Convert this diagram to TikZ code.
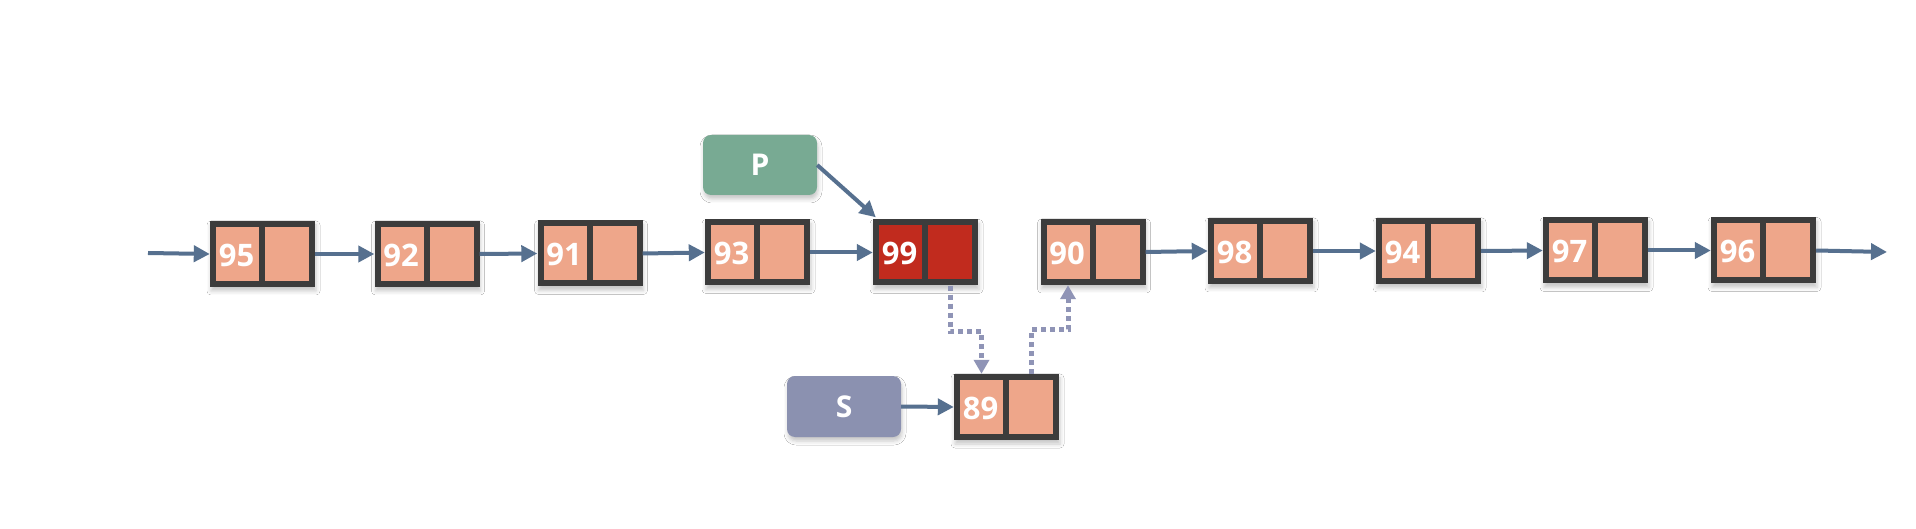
\documentclass[tikz,border=0pt]{standalone}
\usepackage{fontspec}
\setmainfont{Open Sans}
\usetikzlibrary{arrows.meta,shadows.blur,calc}
\definecolor{salmon}{HTML}{EEA68A}
\definecolor{boxborder}{HTML}{3C3C3C}
\definecolor{hotred}{HTML}{C12B1E}
\definecolor{pgreen}{HTML}{78AA93}
\definecolor{sgray}{HTML}{8B91B0}
\definecolor{arrowblue}{HTML}{56708F}
\definecolor{dotcol}{HTML}{8F94B6}
\tikzset{
  outerbox/.style={rectangle, fill=boxborder, minimum width=105pt, minimum height=66pt, inner sep=0pt,
    blur shadow={shadow xshift=1pt, shadow yshift=-4pt, shadow blur radius=4pt, shadow opacity=22}},
  cellbox/.style={rectangle, minimum height=54pt, inner sep=0pt},
  numtext/.style={text=white, font=\fontsize{31}{34}\selectfont\bfseries, inner sep=0pt},
  tagbox/.style={rectangle, rounded corners=8pt, minimum width=114pt, minimum height=60pt, inner sep=0pt,
    text=white, font=\fontsize{30}{33}\selectfont\bfseries,
    blur shadow={shadow xshift=1pt, shadow yshift=-4pt, shadow blur radius=4pt, shadow opacity=22}},
  link/.style={draw=arrowblue, line width=4pt, -{Triangle[length=16pt,width=16pt]}},
  dotlink/.style={draw=dotcol, line width=5pt, dash pattern=on 5pt off 4pt, -{Triangle[length=14pt,width=15pt]}},
}
\newcommand{\lnode}[5]{%
  \node[outerbox] (#1) at (#2,{528-#3}) {};
  \node[cellbox, fill=#5, minimum width=43pt, anchor=north west] (#1l) at ([shift={(6,-6)}]#1.north west) {};
  \node[cellbox, fill=#5, minimum width=44pt, anchor=north east] (#1r) at ([shift={(-6,-6)}]#1.north east) {};
  \node[numtext] (#1t) at ([shift={(-1,-1)}]#1l.center) {#4};
}
\begin{document}
\begin{tikzpicture}[x=1pt,y=1pt]
\useasboundingbox (0,0) rectangle (1916,528);
\fill[white] (0,0) rectangle (1916,528);

\lnode{na}{262.5}{254}{95}{salmon}
\lnode{nb}{427}{254}{92}{salmon}
\lnode{nc}{590}{253.5}{91}{salmon}
\lnode{nd}{757.5}{252.5}{93}{salmon}
\lnode{ne}{925.5}{252.5}{99}{hotred}
\lnode{nf}{1093}{252}{90}{salmon}
\lnode{ng}{1260.5}{251}{98}{salmon}
\lnode{nh}{1428.5}{251}{94}{salmon}
\lnode{ni}{1595.5}{250.5}{97}{salmon}
\lnode{nj}{1763.5}{250.5}{96}{salmon}
\lnode{nk}{1006.5}{407}{89}{salmon}

\node[tagbox, fill=pgreen] (P) at (760,{528-165}) {P};
\node[tagbox, fill=sgray, minimum height=61pt] (S) at (844,{528-406.5}) {S};

\coordinate (head) at (148,{528-253});
\coordinate (tail) at (1887,{528-252});

\draw[link] (head) -- (na.west);
\draw[link] (na.east) -- (nb.west);
\draw[link] (nb.east) -- (nc.west);
\draw[link] (nc.east) -- (nd.west);
\draw[link] (nd.east) -- (ne.west);
\draw[link] (nf.east) -- (ng.west);
\draw[link] (ng.east) -- (nh.west);
\draw[link] (nh.east) -- (ni.west);
\draw[link] (ni.east) -- (nj.west);
\draw[link] (nj.east) -- (tail);
\draw[link] (P.east) -- ([shift={(3,2)}]ne.north west);
\draw[link] (S.east) -- (nk.west);

\draw[dotlink] (ner.south |- ne.south) -- ++(0,-46) -| (nkl.north |- nk.north);
\draw[dotlink] (nkr.north |- nk.north) -- ++(0,44) -| (nfl.south |- nf.south);
\end{tikzpicture}
\end{document}
